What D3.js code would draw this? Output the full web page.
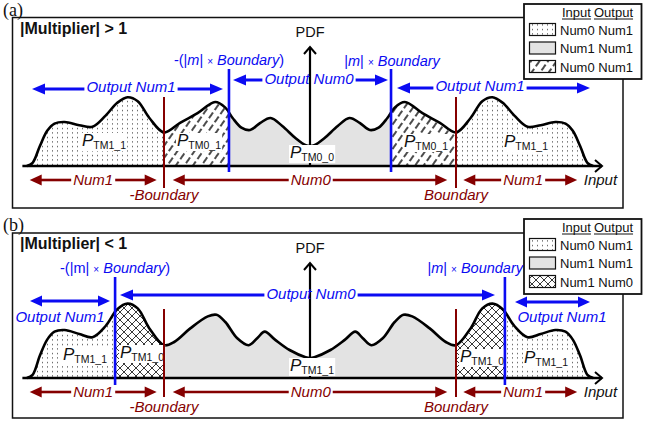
<!DOCTYPE html>
<html>
<head>
<meta charset="utf-8">
<script src="https://cdn.jsdelivr.net/npm/d3@7"></script>
<style>
  body { margin: 0; background: #fff; }
  text { font-family: "Liberation Sans", Arial, sans-serif; }
</style>
</head>
<body>
<svg id="chart" width="665" height="421"></svg>
<script>
// PDF curves, input in units of Boundary (Boundary = 1)
const curveA = [
  [-1.94, 0], [-1.90, 0.04], [-1.85, 0.25], [-1.80, 0.44], [-1.75, 0.53], [-1.68, 0.55],
  [-1.58, 0.51], [-1.49, 0.49], [-1.40, 0.63], [-1.32, 0.79], [-1.25, 0.86], [-1.18, 0.81],
  [-1.10, 0.60], [-1.00, 0.42], [-0.89, 0.54], [-0.77, 0.66], [-0.65, 0.80], [-0.58, 0.73],
  [-0.53, 0.60], [-0.47, 0.48], [-0.41, 0.45], [-0.34, 0.54], [-0.27, 0.60], [-0.19, 0.50],
  [-0.10, 0.35], [-0.03, 0.26], [0, 0.25],
  [0.03, 0.26], [0.10, 0.35], [0.19, 0.50], [0.27, 0.60], [0.34, 0.54], [0.41, 0.45],
  [0.47, 0.48], [0.53, 0.60], [0.58, 0.73], [0.65, 0.80], [0.77, 0.66], [0.89, 0.54],
  [1.00, 0.42], [1.10, 0.60], [1.18, 0.81], [1.25, 0.86], [1.32, 0.79], [1.40, 0.63],
  [1.49, 0.49], [1.58, 0.51], [1.68, 0.55], [1.75, 0.53], [1.80, 0.44], [1.85, 0.25],
  [1.90, 0.04], [1.94, 0]
];
const curveB = [
  [-1.94, 0], [-1.90, 0.04], [-1.85, 0.28], [-1.80, 0.48], [-1.75, 0.58], [-1.68, 0.60],
  [-1.58, 0.55], [-1.49, 0.51], [-1.40, 0.65], [-1.32, 0.86], [-1.25, 0.93], [-1.18, 0.87],
  [-1.10, 0.62], [-1.00, 0.41], [-0.93, 0.45], [-0.82, 0.62], [-0.70, 0.77], [-0.64, 0.79],
  [-0.58, 0.70], [-0.50, 0.50], [-0.42, 0.41], [-0.36, 0.50], [-0.31, 0.58], [-0.24, 0.48],
  [-0.14, 0.35], [-0.03, 0.26], [0, 0.25],
  [0.03, 0.26], [0.14, 0.35], [0.24, 0.48], [0.31, 0.58], [0.36, 0.50], [0.42, 0.41],
  [0.50, 0.50], [0.58, 0.70], [0.64, 0.79], [0.70, 0.77], [0.82, 0.62], [0.93, 0.45],
  [1.00, 0.41], [1.10, 0.62], [1.18, 0.87], [1.25, 0.93], [1.32, 0.86], [1.40, 0.65],
  [1.49, 0.51], [1.58, 0.55], [1.68, 0.60], [1.75, 0.58], [1.80, 0.48], [1.85, 0.28],
  [1.90, 0.04], [1.94, 0]
];

const boundary = 1;
const mBoundaryA = 0.555;   // |m| x Boundary, panel (a)
const mBoundaryB = 1.335;   // |m| x Boundary, panel (b)

// shaded regions: [from, to, kind]
const regionsA = [[-2.1, -boundary, "dots"], [-boundary, -mBoundaryA, "hatch"], [-mBoundaryA, mBoundaryA, "gray"],
                  [mBoundaryA, boundary, "hatch"], [boundary, 2.1, "dots"]];
const regionsB = [[-2.1, -mBoundaryB, "dots"], [-mBoundaryB, -boundary, "cross"], [-boundary, boundary, "gray"],
                  [boundary, mBoundaryB, "cross"], [mBoundaryB, 2.1, "dots"]];

const legendKindsA = ["dots", "gray", "hatch"];
const legendLabelsA = ["Num0 Num1", "Num1 Num1", "Num0 Num1"];
const legendKindsB = ["dots", "gray", "cross"];
const legendLabelsB = ["Num0 Num1", "Num1 Num1", "Num1 Num0"];

const inputRanges = ["Num1", "Num0", "Num1"];
const labelsA = ["TM1_1", "TM0_1", "TM0_0", "TM0_1", "TM1_1"];
const labelsB = ["TM1_1", "TM1_0", "TM1_1", "TM1_0", "TM1_1"];

const blue = "#0b0bf2", red = "#850000";
const svg = d3.select("#chart");
const xS = d3.scaleLinear().domain([-2, 2]).range([18, 602]);

// patterns
const defs = svg.append("defs");
const pDots = defs.append("pattern").attr("id", "dots").attr("patternUnits", "userSpaceOnUse")
  .attr("width", 5).attr("height", 4.5);
pDots.append("rect").attr("x", 2).attr("y", 2).attr("width", 1).attr("height", 1).attr("fill", "#222");

const pHatch = defs.append("pattern").attr("id", "hatch").attr("patternUnits", "userSpaceOnUse")
  .attr("width", 7).attr("height", 10).attr("patternTransform", "rotate(35)");
pHatch.append("line").attr("x1", 1).attr("y1", 0).attr("x2", 1).attr("y2", 10)
  .attr("stroke", "#000").attr("stroke-width", 1.4).attr("stroke-dasharray", "7 3");

const pCross = defs.append("pattern").attr("id", "cross").attr("patternUnits", "userSpaceOnUse")
  .attr("width", 8).attr("height", 8);
pCross.append("path").attr("d", "M0,0L8,8M8,0L0,8").attr("stroke", "#222").attr("stroke-width", 0.9);

const fillOf = k => k === "gray" ? "#e3e3e3" : "url(#" + k + ")";

function head(g, x, y, dir, color, len, hw) {
  g.append("path")
    .attr("d", `M${x},${y}L${x - dir * len},${y - hw}L${x - dir * len},${y + hw}Z`)
    .attr("fill", color);
}

// horizontal double arrow, label inline (gap in line) or none
function hArrow(g, x0, x1, y, color, sw, len, hw, label, lx, fs, dy) {
  head(g, x0, y, -1, color, len, hw);
  head(g, x1, y, 1, color, len, hw);
  if (label) {
    const t = g.append("text").attr("x", lx).attr("y", y + dy).attr("text-anchor", "middle")
      .attr("font-size", fs).attr("font-style", "italic").attr("fill", color).text(label);
    const tw = t.node().getComputedTextLength();
    g.append("line").attr("x1", x0 + len - 1).attr("x2", lx - tw / 2 - 2).attr("y1", y).attr("y2", y)
      .attr("stroke", color).attr("stroke-width", sw);
    g.append("line").attr("x1", lx + tw / 2 + 2).attr("x2", x1 - len + 1).attr("y1", y).attr("y2", y)
      .attr("stroke", color).attr("stroke-width", sw);
  } else {
    g.append("line").attr("x1", x0 + len - 1).attr("x2", x1 - len + 1).attr("y1", y).attr("y2", y)
      .attr("stroke", color).attr("stroke-width", sw);
  }
}

function pLabel(g, x, y, sub) {
  const t = g.append("text").attr("x", x).attr("y", y).attr("fill", "#111");
  t.append("tspan").attr("font-size", 17).attr("font-style", "italic").text("P");
  t.append("tspan").attr("font-size", 10.5).attr("dy", 3).text(sub);
  const bb = t.node().getBBox();
  g.insert("rect", () => t.node())
    .attr("x", bb.x - 1).attr("y", bb.y + 2).attr("width", bb.width + 2).attr("height", bb.height - 2)
    .attr("fill", "#fff");
}

function mLabel(g, x, y, anchor, neg, italicM) {
  const t = g.append("text").attr("x", x).attr("y", y).attr("text-anchor", anchor)
    .attr("font-size", 14.5).attr("fill", blue);
  t.append("tspan").text(neg ? "-(|" : "|");
  t.append("tspan").attr("font-style", italicM ? "italic" : "normal").text("m");
  t.append("tspan").text("| ");
  t.append("tspan").attr("font-size", 10).text("\u00d7");
  t.append("tspan").text(" ");
  t.append("tspan").attr("font-style", "italic").text("Boundary");
  if (neg) t.append("tspan").text(")");
}

function drawPanel(p) {
  const g = svg.append("g");
  const yS = d3.scaleLinear().domain([0, 1]).range([p.base, p.base - 80]);

  // frame
  g.append("rect").attr("x", 12.5).attr("y", p.top).attr("width", 610.5).attr("height", p.bottom - p.top)
    .attr("fill", "#fff").attr("stroke", "#111").attr("stroke-width", 1.5);
  g.append("text").attr("x", 3).attr("y", p.top - 2).style("font-family", "'Liberation Serif', 'Times New Roman', serif")
    .attr("font-size", 18).attr("fill", "#111").text(p.tag);
  g.append("text").attr("x", 20).attr("y", p.top + 16).attr("font-size", 16).attr("font-weight", "bold")
    .attr("fill", "#111").text(p.title);

  const area = d3.area().x(d => xS(d[0])).y0(p.base).y1(d => yS(d[1])).curve(d3.curveCatmullRom.alpha(0.5));
  const line = d3.line().x(d => xS(d[0])).y(d => yS(d[1])).curve(d3.curveCatmullRom.alpha(0.5));

  p.regions.forEach((r, i) => {
    const id = "clip" + p.key + i;
    defs.append("clipPath").attr("id", id).append("rect")
      .attr("x", xS(r[0])).attr("y", p.top).attr("width", xS(r[1]) - xS(r[0])).attr("height", p.base - p.top);
    g.append("path").datum(p.curve).attr("d", area).attr("fill", fillOf(r[2])).attr("clip-path", "url(#" + id + ")");
  });
  g.append("path").datum(p.curve).attr("d", line).attr("fill", "none")
    .attr("stroke", "#000").attr("stroke-width", 2.6).attr("stroke-linejoin", "round");

  // axes
  g.append("line").attr("x1", xS(-1.97)).attr("x2", xS(2.0)).attr("y1", p.base).attr("y2", p.base)
    .attr("stroke", "#000").attr("stroke-width", 2.6);
  g.append("path").attr("d", `M${xS(2.0) - 7},${p.base - 6}L${xS(2.0)},${p.base}L${xS(2.0) - 7},${p.base + 6}`)
    .attr("fill", "none").attr("stroke", "#000").attr("stroke-width", 2);
  g.append("line").attr("x1", xS(0)).attr("x2", xS(0)).attr("y1", p.base).attr("y2", p.pdfTop)
    .attr("stroke", "#000").attr("stroke-width", 2.2);
  g.append("path").attr("d", `M${xS(0) - 6},${p.pdfTop + 7}L${xS(0)},${p.pdfTop}L${xS(0) + 6},${p.pdfTop + 7}`)
    .attr("fill", "none").attr("stroke", "#000").attr("stroke-width", 2);
  g.append("text").attr("x", xS(0)).attr("y", p.pdfTop - 10).attr("text-anchor", "middle")
    .attr("font-size", 14.5).attr("fill", "#111").text("PDF");

  // P labels
  p.labels.forEach((s, i) => pLabel(g, p.labelPos[i][0], p.labelPos[i][1], s));

  // boundary lines
  [-boundary, boundary].forEach(b => {
    g.append("line").attr("x1", xS(b)).attr("x2", xS(b)).attr("y1", p.redTop).attr("y2", p.redBot)
      .attr("stroke", red).attr("stroke-width", 2);
  });
  [-p.mb, p.mb].forEach(b => {
    g.append("line").attr("x1", xS(b)).attr("x2", xS(b)).attr("y1", p.blueTop).attr("y2", p.blueBot)
      .attr("stroke", blue).attr("stroke-width", 2.6);
  });

  // input range arrows
  const ry = p.redY;
  hArrow(g, xS(-1.92), xS(-1.05), ry, red, 2.6, 12, 5.5, inputRanges[0], xS(-1.485), 15, 5);
  hArrow(g, xS(-0.94), xS(0.94), ry, red, 2.6, 12, 5.5, inputRanges[1], xS(0.005), 15, 5);
  hArrow(g, xS(1.05), xS(1.83), ry, red, 2.6, 12, 5.5, inputRanges[2], xS(1.46), 15, 5);
  g.append("text").attr("x", xS(-1)).attr("y", ry + 20).attr("text-anchor", "middle").attr("font-size", 15)
    .attr("font-style", "italic").attr("fill", red).text("-Boundary");
  g.append("text").attr("x", xS(1)).attr("y", ry + 20).attr("text-anchor", "middle").attr("font-size", 15)
    .attr("font-style", "italic").attr("fill", red).text("Boundary");
  g.append("text").attr("x", xS(1.875)).attr("y", ry + 5).attr("font-size", 15)
    .attr("font-style", "italic").attr("fill", "#111").text("Input");

  // legend
  const lg = g.append("g");
  lg.append("rect").attr("x", 524).attr("y", p.legTop).attr("width", 117.5).attr("height", 75)
    .attr("fill", "#fff").attr("stroke", "#111").attr("stroke-width", 1.8);
  const hdr = [["Input", 562], ["Output", 594]];
  hdr.forEach(h => {
    const t = lg.append("text").attr("x", h[1]).attr("y", p.legTop + 13).attr("font-size", 13)
      .attr("fill", "#111").text(h[0]);
    const w = t.node().getComputedTextLength();
    lg.append("line").attr("x1", h[1]).attr("x2", h[1] + w).attr("y1", p.legTop + 15).attr("y2", p.legTop + 15)
      .attr("stroke", "#111").attr("stroke-width", 1);
  });
  p.legKinds.forEach((k, i) => {
    const yy = p.legTop + 19.5 + i * 18.5;
    lg.append("rect").attr("x", 529.5).attr("y", yy).attr("width", 26).attr("height", 12)
      .attr("fill", fillOf(k)).attr("stroke", "#111").attr("stroke-width", 1.2);
    lg.append("text").attr("x", 560).attr("y", yy + 11).attr("font-size", 13).attr("fill", "#111")
      .text(p.legLabels[i]);
  });
  return g;
}

const gA = drawPanel({
  key: "a", tag: "(a)", title: "|Multiplier| > 1", top: 17.5, bottom: 208, base: 166, pdfTop: 47,
  curve: curveA, regions: regionsA, mb: mBoundaryA,
  labels: labelsA, labelPos: [[82, 146], [177, 146], [290, 158], [404, 147], [504, 147]],
  redTop: 97, redBot: 188, blueTop: 69, blueBot: 172, redY: 180,
  legTop: 4, legKinds: legendKindsA, legLabels: legendLabelsA
});
mLabel(gA, xS(-mBoundaryA), 65, "middle", true, true);
mLabel(gA, xS(mBoundaryA) + 1, 66, "middle", false, true);
hArrow(gA, 32, 223, 89, blue, 3, 13, 5.5, "Output Num1", 131, 15, 2.5);
hArrow(gA, 233, 388, 80, blue, 3, 13, 5.5, "Output Num0", 309, 15, 4);
hArrow(gA, 397, 590, 88, blue, 3, 13, 5.5, "Output Num1", 480, 15, 2.5);

const gB = drawPanel({
  key: "b", tag: "(b)", title: "|Multiplier| < 1", top: 233, bottom: 418, base: 378, pdfTop: 263,
  curve: curveB, regions: regionsB, mb: mBoundaryB,
  labels: labelsB, labelPos: [[63, 360], [120, 358], [290, 371], [460, 362], [524, 363]],
  redTop: 309, redBot: 397, blueTop: 277, blueBot: 385, redY: 392,
  legTop: 219, legKinds: legendKindsB, legLabels: legendLabelsB
});
mLabel(gB, xS(-mBoundaryB), 273, "middle", true, false);
mLabel(gB, 523, 273, "end", false, true);
hArrow(gB, 30, 110, 301, blue, 3, 12, 5.5, null);
hArrow(gB, 120, 495, 295, blue, 3, 13, 5.5, "Output Num0", 311, 15, 4);
hArrow(gB, 515, 590, 302, blue, 3, 12, 5.5, null);
gB.append("text").attr("x", 60).attr("y", 322).attr("text-anchor", "middle").attr("font-size", 15)
  .attr("font-style", "italic").attr("fill", blue).text("Output Num1");
gB.append("text").attr("x", 562).attr("y", 322).attr("text-anchor", "middle").attr("font-size", 15)
  .attr("font-style", "italic").attr("fill", blue).text("Output Num1");
</script>
</body>
</html>
